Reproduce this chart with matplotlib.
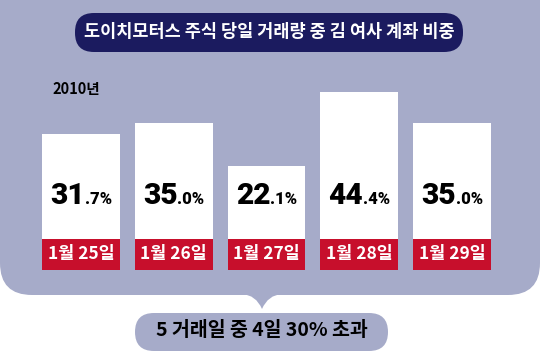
import matplotlib
matplotlib.use("Agg")
import matplotlib.pyplot as plt
from matplotlib.patches import FancyBboxPatch, PathPatch
from matplotlib.path import Path
from matplotlib.transforms import offset_copy

plt.rcParams["font.family"] = ["Noto Sans CJK KR", "DejaVu Sans"]

# data
dates = ["1월 25일", "1월 26일", "1월 27일", "1월 28일", "1월 29일"]
shares = [31.7, 35.0, 22.1, 44.4, 35.0]
title = "도이치모터스 주식 당일 거래량 중 김 여사 계좌 비중"
year_label = "2010년"
summary = "5 거래일 중 4일 30% 초과"

LAV = "#a6abc9"
NAVY = "#1b1b5f"
RED = "#c70f2c"

PX_PER_PCT = 3.32  # pixels per percentage point
W, H = 540, 354

fig = plt.figure(figsize=(W / 100, H / 100), dpi=100)
fig.patch.set_facecolor("white")

# background layer in pixel coordinates
bg = fig.add_axes([0, 0, 1, 1])
bg.set_xlim(0, W)
bg.set_ylim(H, 0)
bg.axis("off")

bg.add_patch(FancyBboxPatch((0, -40), W, 335, boxstyle="round,pad=0,rounding_size=32",
                            fc=LAV, ec="none"))
# little pointer under the card
verts = [(242, 294), (256, 295), (262, 309), (268, 295), (282, 294), (242, 294)]
codes = [Path.MOVETO, Path.CURVE3, Path.CURVE3, Path.CURVE3, Path.CURVE3, Path.CLOSEPOLY]
bg.add_patch(PathPatch(Path(verts, codes), fc=LAV, ec="none"))

# title pill
bg.add_patch(FancyBboxPatch((75, 13), 388, 39, boxstyle="round,pad=0,rounding_size=19",
                            fc=NAVY, ec="none"))
bg.text(269, 32, title, color="white", fontsize=12.6, fontweight="bold",
        ha="center", va="center")

bg.text(52, 89, year_label, color="black", fontsize=10.5, fontweight="bold",
        ha="left", va="center")

# summary pill
bg.add_patch(FancyBboxPatch((135, 313), 253, 38, boxstyle="round,pad=0,rounding_size=19",
                            fc=LAV, ec="none"))
bg.text(262, 331, summary, color="black", fontsize=14, fontweight="bold",
        ha="center", va="center")

# bars in value coordinates
base_px, label_px, top_px = 239, 270, 80
ymin = -(label_px - base_px) / PX_PER_PCT
ymax = (base_px - top_px) / PX_PER_PCT
left_px, right_px = 34.6, 498.4
ax = fig.add_axes([left_px / W, (H - label_px) / H, (right_px - left_px) / W,
                   (label_px - top_px) / H])
ax.set_xlim(-0.5, len(shares) - 0.5)
ax.set_ylim(ymin, ymax)
ax.axis("off")

x = list(range(len(shares)))
ax.bar(x, shares, width=0.84, color="white")
ax.bar(x, [-ymin] * len(shares), bottom=ymin, width=0.84, color=RED)

for i, d in enumerate(dates):
    ax.text(i, ymin / 2, d, color="white", fontsize=12.5, fontweight="bold",
            ha="center", va="center")

renderer = fig.canvas.get_renderer()
num_font = dict(family=["Roboto", "DejaVu Sans"], fontweight="black", color="black")
text_y = (base_px - 204) / PX_PER_PCT
for i, v in enumerate(shares):
    whole, frac = f"{v:.1f}".split(".")
    t1 = ax.text(i, text_y, whole, fontsize=21.5, ha="right", va="baseline", **num_font)
    t2 = ax.text(i, text_y, "." + frac + "%", fontsize=12, ha="left", va="baseline", **num_font)
    w1 = t1.get_window_extent(renderer).width
    w2 = t2.get_window_extent(renderer).width
    dx = w1 - (w1 + w2) / 2
    tr = offset_copy(ax.transData, fig=fig, x=dx, y=0, units="dots")
    t1.set_transform(tr)
    t2.set_transform(tr)

fig.savefig("out.png", dpi=100, facecolor="white")
